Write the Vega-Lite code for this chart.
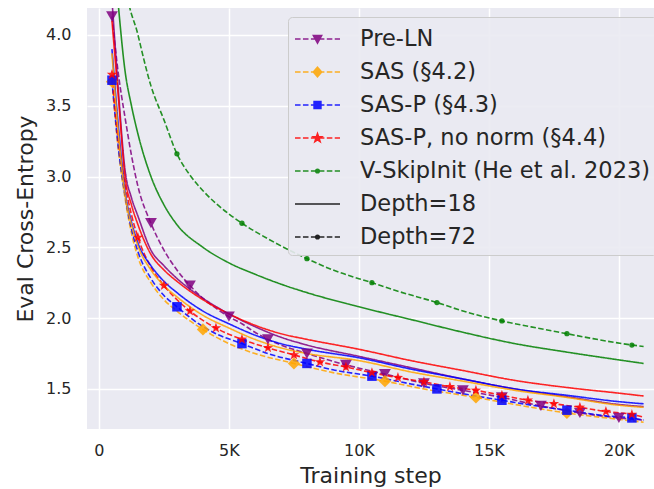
{
  "$schema": "https://vega.github.io/schema/vega-lite/v6.json",
  "width": 567,
  "height": 421,
  "autosize": {"type": "none"},
  "padding": {"left": 87, "top": 8, "right": 0, "bottom": 60},
  "background": "white",
  "view": {"fill": "#EAEAF2", "stroke": null},
  "config": {
    "font": "DejaVu Sans",
    "view": {"fill": "#EAEAF2", "stroke": null},
    "axis": {"grid": true, "gridColor": "#FFFFFF", "gridWidth": 1.5, "domain": false, "ticks": false, "labelFontSize": 16, "labelColor": "#262626", "titleFontSize": 22, "titleColor": "#262626", "titleFontWeight": "normal", "labelFont": "DejaVu Sans", "titleFont": "DejaVu Sans"}
  },
  "datasets": {
    "c": [
      {"m":"Pre-LN","d":"72","x":500,"y":4.13,"k":1},{"m":"Pre-LN","d":"72","x":750,"y":3.72,"k":0},{"m":"Pre-LN","d":"72","x":1000,"y":3.42,"k":0},{"m":"Pre-LN","d":"72","x":1250,"y":3.15,"k":0},{"m":"Pre-LN","d":"72","x":1500,"y":2.93,"k":0},{"m":"Pre-LN","d":"72","x":2000,"y":2.67,"k":1},{"m":"Pre-LN","d":"72","x":2500,"y":2.48,"k":0},{"m":"Pre-LN","d":"72","x":3000,"y":2.34,"k":0},{"m":"Pre-LN","d":"72","x":3500,"y":2.23,"k":1},{"m":"Pre-LN","d":"72","x":4000,"y":2.14,"k":0},{"m":"Pre-LN","d":"72","x":4500,"y":2.07,"k":0},{"m":"Pre-LN","d":"72","x":5000,"y":2.01,"k":1},{"m":"Pre-LN","d":"72","x":5500,"y":1.96,"k":0},{"m":"Pre-LN","d":"72","x":6000,"y":1.9,"k":0},{"m":"Pre-LN","d":"72","x":6500,"y":1.85,"k":1},{"m":"Pre-LN","d":"72","x":7000,"y":1.81,"k":0},{"m":"Pre-LN","d":"72","x":8000,"y":1.75,"k":1},{"m":"Pre-LN","d":"72","x":9500,"y":1.67,"k":1},{"m":"Pre-LN","d":"72","x":11000,"y":1.605,"k":1},{"m":"Pre-LN","d":"72","x":12500,"y":1.54,"k":1},{"m":"Pre-LN","d":"72","x":14000,"y":1.49,"k":1},{"m":"Pre-LN","d":"72","x":15500,"y":1.44,"k":1},{"m":"Pre-LN","d":"72","x":17000,"y":1.38,"k":1},{"m":"Pre-LN","d":"72","x":18500,"y":1.33,"k":1},{"m":"Pre-LN","d":"72","x":20000,"y":1.295,"k":1},{"m":"Pre-LN","d":"72","x":20950,"y":1.28,"k":0},

      {"m":"SAS (§4.2)","d":"72","x":500,"y":3.67,"k":1},{"m":"SAS (§4.2)","d":"72","x":750,"y":3.18,"k":0},{"m":"SAS (§4.2)","d":"72","x":1000,"y":2.85,"k":0},{"m":"SAS (§4.2)","d":"72","x":1250,"y":2.6,"k":0},{"m":"SAS (§4.2)","d":"72","x":1500,"y":2.43,"k":0},{"m":"SAS (§4.2)","d":"72","x":2000,"y":2.25,"k":0},{"m":"SAS (§4.2)","d":"72","x":2500,"y":2.13,"k":0},{"m":"SAS (§4.2)","d":"72","x":3000,"y":2.05,"k":0},{"m":"SAS (§4.2)","d":"72","x":3500,"y":1.98,"k":0},{"m":"SAS (§4.2)","d":"72","x":4000,"y":1.92,"k":1},{"m":"SAS (§4.2)","d":"72","x":5000,"y":1.82,"k":0},{"m":"SAS (§4.2)","d":"72","x":6000,"y":1.75,"k":0},{"m":"SAS (§4.2)","d":"72","x":7500,"y":1.68,"k":1},{"m":"SAS (§4.2)","d":"72","x":9000,"y":1.615,"k":0},{"m":"SAS (§4.2)","d":"72","x":11000,"y":1.555,"k":1},{"m":"SAS (§4.2)","d":"72","x":12500,"y":1.5,"k":0},{"m":"SAS (§4.2)","d":"72","x":14500,"y":1.44,"k":1},{"m":"SAS (§4.2)","d":"72","x":16000,"y":1.39,"k":0},{"m":"SAS (§4.2)","d":"72","x":18000,"y":1.33,"k":1},{"m":"SAS (§4.2)","d":"72","x":20000,"y":1.285,"k":0},{"m":"SAS (§4.2)","d":"72","x":20950,"y":1.265,"k":0},

      {"m":"SAS-P (§4.3)","d":"72","x":500,"y":3.68,"k":1},{"m":"SAS-P (§4.3)","d":"72","x":750,"y":3.2,"k":0},{"m":"SAS-P (§4.3)","d":"72","x":1000,"y":2.87,"k":0},{"m":"SAS-P (§4.3)","d":"72","x":1250,"y":2.63,"k":0},{"m":"SAS-P (§4.3)","d":"72","x":1500,"y":2.47,"k":0},{"m":"SAS-P (§4.3)","d":"72","x":2000,"y":2.28,"k":0},{"m":"SAS-P (§4.3)","d":"72","x":2500,"y":2.16,"k":0},{"m":"SAS-P (§4.3)","d":"72","x":3000,"y":2.08,"k":1},{"m":"SAS-P (§4.3)","d":"72","x":4000,"y":1.94,"k":0},{"m":"SAS-P (§4.3)","d":"72","x":4500,"y":1.89,"k":0},{"m":"SAS-P (§4.3)","d":"72","x":5500,"y":1.82,"k":1},{"m":"SAS-P (§4.3)","d":"72","x":6500,"y":1.75,"k":0},{"m":"SAS-P (§4.3)","d":"72","x":8000,"y":1.68,"k":1},{"m":"SAS-P (§4.3)","d":"72","x":9000,"y":1.635,"k":0},{"m":"SAS-P (§4.3)","d":"72","x":10500,"y":1.59,"k":1},{"m":"SAS-P (§4.3)","d":"72","x":12000,"y":1.535,"k":0},{"m":"SAS-P (§4.3)","d":"72","x":13000,"y":1.5,"k":1},{"m":"SAS-P (§4.3)","d":"72","x":14500,"y":1.45,"k":0},{"m":"SAS-P (§4.3)","d":"72","x":15500,"y":1.42,"k":1},{"m":"SAS-P (§4.3)","d":"72","x":17000,"y":1.375,"k":0},{"m":"SAS-P (§4.3)","d":"72","x":18000,"y":1.35,"k":1},{"m":"SAS-P (§4.3)","d":"72","x":19500,"y":1.31,"k":0},{"m":"SAS-P (§4.3)","d":"72","x":20500,"y":1.295,"k":1},{"m":"SAS-P (§4.3)","d":"72","x":20950,"y":1.28,"k":0},

      {"m":"SAS-P, no norm (§4.4)","d":"72","x":500,"y":3.72,"k":1},{"m":"SAS-P, no norm (§4.4)","d":"72","x":750,"y":3.25,"k":0},{"m":"SAS-P, no norm (§4.4)","d":"72","x":1000,"y":2.95,"k":0},{"m":"SAS-P, no norm (§4.4)","d":"72","x":1250,"y":2.73,"k":0},{"m":"SAS-P, no norm (§4.4)","d":"72","x":1500,"y":2.57,"k":1},{"m":"SAS-P, no norm (§4.4)","d":"72","x":2000,"y":2.36,"k":0},{"m":"SAS-P, no norm (§4.4)","d":"72","x":2500,"y":2.23,"k":1},{"m":"SAS-P, no norm (§4.4)","d":"72","x":3000,"y":2.13,"k":0},{"m":"SAS-P, no norm (§4.4)","d":"72","x":3500,"y":2.05,"k":1},{"m":"SAS-P, no norm (§4.4)","d":"72","x":4500,"y":1.93,"k":1},{"m":"SAS-P, no norm (§4.4)","d":"72","x":5500,"y":1.85,"k":1},{"m":"SAS-P, no norm (§4.4)","d":"72","x":6500,"y":1.79,"k":1},{"m":"SAS-P, no norm (§4.4)","d":"72","x":7500,"y":1.74,"k":1},{"m":"SAS-P, no norm (§4.4)","d":"72","x":8500,"y":1.69,"k":1},{"m":"SAS-P, no norm (§4.4)","d":"72","x":9500,"y":1.655,"k":1},{"m":"SAS-P, no norm (§4.4)","d":"72","x":10500,"y":1.615,"k":1},{"m":"SAS-P, no norm (§4.4)","d":"72","x":11500,"y":1.58,"k":1},{"m":"SAS-P, no norm (§4.4)","d":"72","x":12500,"y":1.55,"k":1},{"m":"SAS-P, no norm (§4.4)","d":"72","x":13500,"y":1.515,"k":1},{"m":"SAS-P, no norm (§4.4)","d":"72","x":14500,"y":1.49,"k":1},{"m":"SAS-P, no norm (§4.4)","d":"72","x":15500,"y":1.455,"k":1},{"m":"SAS-P, no norm (§4.4)","d":"72","x":16500,"y":1.42,"k":1},{"m":"SAS-P, no norm (§4.4)","d":"72","x":17500,"y":1.395,"k":1},{"m":"SAS-P, no norm (§4.4)","d":"72","x":18500,"y":1.37,"k":1},{"m":"SAS-P, no norm (§4.4)","d":"72","x":19500,"y":1.34,"k":1},{"m":"SAS-P, no norm (§4.4)","d":"72","x":20500,"y":1.32,"k":1},{"m":"SAS-P, no norm (§4.4)","d":"72","x":20950,"y":1.3,"k":0},

      {"m":"V-SkipInit (He et al. 2023)","d":"72","x":500,"y":5.6,"k":1},{"m":"V-SkipInit (He et al. 2023)","d":"72","x":1000,"y":4.4,"k":0},{"m":"V-SkipInit (He et al. 2023)","d":"72","x":1500,"y":4.0,"k":0},{"m":"V-SkipInit (He et al. 2023)","d":"72","x":2000,"y":3.64,"k":0},{"m":"V-SkipInit (He et al. 2023)","d":"72","x":2500,"y":3.4,"k":0},{"m":"V-SkipInit (He et al. 2023)","d":"72","x":3000,"y":3.16,"k":1},{"m":"V-SkipInit (He et al. 2023)","d":"72","x":3500,"y":3.01,"k":0},{"m":"V-SkipInit (He et al. 2023)","d":"72","x":4000,"y":2.9,"k":0},{"m":"V-SkipInit (He et al. 2023)","d":"72","x":4500,"y":2.81,"k":0},{"m":"V-SkipInit (He et al. 2023)","d":"72","x":5000,"y":2.735,"k":0},{"m":"V-SkipInit (He et al. 2023)","d":"72","x":5500,"y":2.67,"k":1},{"m":"V-SkipInit (He et al. 2023)","d":"72","x":6500,"y":2.56,"k":0},{"m":"V-SkipInit (He et al. 2023)","d":"72","x":8000,"y":2.42,"k":1},{"m":"V-SkipInit (He et al. 2023)","d":"72","x":9000,"y":2.34,"k":0},{"m":"V-SkipInit (He et al. 2023)","d":"72","x":10500,"y":2.25,"k":1},{"m":"V-SkipInit (He et al. 2023)","d":"72","x":11500,"y":2.19,"k":0},{"m":"V-SkipInit (He et al. 2023)","d":"72","x":13000,"y":2.11,"k":1},{"m":"V-SkipInit (He et al. 2023)","d":"72","x":14000,"y":2.05,"k":0},{"m":"V-SkipInit (He et al. 2023)","d":"72","x":15500,"y":1.98,"k":1},{"m":"V-SkipInit (He et al. 2023)","d":"72","x":17000,"y":1.925,"k":0},{"m":"V-SkipInit (He et al. 2023)","d":"72","x":18000,"y":1.89,"k":1},{"m":"V-SkipInit (He et al. 2023)","d":"72","x":19000,"y":1.855,"k":0},{"m":"V-SkipInit (He et al. 2023)","d":"72","x":20500,"y":1.81,"k":1},{"m":"V-SkipInit (He et al. 2023)","d":"72","x":20950,"y":1.8,"k":0},

      {"m":"Pre-LN","d":"18","x":500,"y":4.25,"k":0},{"m":"Pre-LN","d":"18","x":750,"y":3.6,"k":0},{"m":"Pre-LN","d":"18","x":1000,"y":3.05,"k":0},{"m":"Pre-LN","d":"18","x":1250,"y":2.85,"k":0},{"m":"Pre-LN","d":"18","x":1500,"y":2.72,"k":0},{"m":"Pre-LN","d":"18","x":2000,"y":2.48,"k":0},{"m":"Pre-LN","d":"18","x":2500,"y":2.37,"k":0},{"m":"Pre-LN","d":"18","x":3000,"y":2.28,"k":0},{"m":"Pre-LN","d":"18","x":4000,"y":2.14,"k":0},{"m":"Pre-LN","d":"18","x":5000,"y":2.03,"k":0},{"m":"Pre-LN","d":"18","x":6000,"y":1.94,"k":0},{"m":"Pre-LN","d":"18","x":7000,"y":1.865,"k":0},{"m":"Pre-LN","d":"18","x":8000,"y":1.81,"k":0},{"m":"Pre-LN","d":"18","x":10000,"y":1.73,"k":0},{"m":"Pre-LN","d":"18","x":12000,"y":1.65,"k":0},{"m":"Pre-LN","d":"18","x":14000,"y":1.57,"k":0},{"m":"Pre-LN","d":"18","x":16000,"y":1.5,"k":0},{"m":"Pre-LN","d":"18","x":18000,"y":1.445,"k":0},{"m":"Pre-LN","d":"18","x":20000,"y":1.39,"k":0},{"m":"Pre-LN","d":"18","x":20950,"y":1.375,"k":0},

      {"m":"SAS-P, no norm (§4.4)","d":"18","x":500,"y":4.1,"k":0},{"m":"SAS-P, no norm (§4.4)","d":"18","x":750,"y":3.55,"k":0},{"m":"SAS-P, no norm (§4.4)","d":"18","x":1000,"y":3.0,"k":0},{"m":"SAS-P, no norm (§4.4)","d":"18","x":1250,"y":2.8,"k":0},{"m":"SAS-P, no norm (§4.4)","d":"18","x":1500,"y":2.66,"k":0},{"m":"SAS-P, no norm (§4.4)","d":"18","x":2000,"y":2.45,"k":0},{"m":"SAS-P, no norm (§4.4)","d":"18","x":2500,"y":2.34,"k":0},{"m":"SAS-P, no norm (§4.4)","d":"18","x":3000,"y":2.26,"k":0},{"m":"SAS-P, no norm (§4.4)","d":"18","x":4000,"y":2.13,"k":0},{"m":"SAS-P, no norm (§4.4)","d":"18","x":5000,"y":2.03,"k":0},{"m":"SAS-P, no norm (§4.4)","d":"18","x":6000,"y":1.95,"k":0},{"m":"SAS-P, no norm (§4.4)","d":"18","x":7000,"y":1.89,"k":0},{"m":"SAS-P, no norm (§4.4)","d":"18","x":8000,"y":1.85,"k":0},{"m":"SAS-P, no norm (§4.4)","d":"18","x":10000,"y":1.78,"k":0},{"m":"SAS-P, no norm (§4.4)","d":"18","x":12000,"y":1.7,"k":0},{"m":"SAS-P, no norm (§4.4)","d":"18","x":14000,"y":1.63,"k":0},{"m":"SAS-P, no norm (§4.4)","d":"18","x":16000,"y":1.56,"k":0},{"m":"SAS-P, no norm (§4.4)","d":"18","x":18000,"y":1.51,"k":0},{"m":"SAS-P, no norm (§4.4)","d":"18","x":20000,"y":1.47,"k":0},{"m":"SAS-P, no norm (§4.4)","d":"18","x":20950,"y":1.45,"k":0},

      {"m":"SAS-P (§4.3)","d":"18","x":500,"y":3.9,"k":0},{"m":"SAS-P (§4.3)","d":"18","x":750,"y":3.35,"k":0},{"m":"SAS-P (§4.3)","d":"18","x":1000,"y":2.9,"k":0},{"m":"SAS-P (§4.3)","d":"18","x":1250,"y":2.68,"k":0},{"m":"SAS-P (§4.3)","d":"18","x":1500,"y":2.53,"k":0},{"m":"SAS-P (§4.3)","d":"18","x":2000,"y":2.37,"k":0},{"m":"SAS-P (§4.3)","d":"18","x":2500,"y":2.26,"k":0},{"m":"SAS-P (§4.3)","d":"18","x":3000,"y":2.18,"k":0},{"m":"SAS-P (§4.3)","d":"18","x":4000,"y":2.05,"k":0},{"m":"SAS-P (§4.3)","d":"18","x":5000,"y":1.96,"k":0},{"m":"SAS-P (§4.3)","d":"18","x":6000,"y":1.88,"k":0},{"m":"SAS-P (§4.3)","d":"18","x":7000,"y":1.82,"k":0},{"m":"SAS-P (§4.3)","d":"18","x":8000,"y":1.78,"k":0},{"m":"SAS-P (§4.3)","d":"18","x":10000,"y":1.72,"k":0},{"m":"SAS-P (§4.3)","d":"18","x":12000,"y":1.64,"k":0},{"m":"SAS-P (§4.3)","d":"18","x":14000,"y":1.57,"k":0},{"m":"SAS-P (§4.3)","d":"18","x":16000,"y":1.5,"k":0},{"m":"SAS-P (§4.3)","d":"18","x":18000,"y":1.455,"k":0},{"m":"SAS-P (§4.3)","d":"18","x":20000,"y":1.41,"k":0},{"m":"SAS-P (§4.3)","d":"18","x":20950,"y":1.395,"k":0},

      {"m":"SAS (§4.2)","d":"18","x":500,"y":3.87,"k":0},{"m":"SAS (§4.2)","d":"18","x":750,"y":3.3,"k":0},{"m":"SAS (§4.2)","d":"18","x":1000,"y":2.88,"k":0},{"m":"SAS (§4.2)","d":"18","x":1250,"y":2.66,"k":0},{"m":"SAS (§4.2)","d":"18","x":1500,"y":2.51,"k":0},{"m":"SAS (§4.2)","d":"18","x":2000,"y":2.34,"k":0},{"m":"SAS (§4.2)","d":"18","x":2500,"y":2.23,"k":0},{"m":"SAS (§4.2)","d":"18","x":3000,"y":2.15,"k":0},{"m":"SAS (§4.2)","d":"18","x":4000,"y":2.02,"k":0},{"m":"SAS (§4.2)","d":"18","x":5000,"y":1.93,"k":0},{"m":"SAS (§4.2)","d":"18","x":6000,"y":1.85,"k":0},{"m":"SAS (§4.2)","d":"18","x":7000,"y":1.79,"k":0},{"m":"SAS (§4.2)","d":"18","x":8000,"y":1.75,"k":0},{"m":"SAS (§4.2)","d":"18","x":10000,"y":1.7,"k":0},{"m":"SAS (§4.2)","d":"18","x":12000,"y":1.62,"k":0},{"m":"SAS (§4.2)","d":"18","x":14000,"y":1.555,"k":0},{"m":"SAS (§4.2)","d":"18","x":16000,"y":1.49,"k":0},{"m":"SAS (§4.2)","d":"18","x":18000,"y":1.44,"k":0},{"m":"SAS (§4.2)","d":"18","x":20000,"y":1.385,"k":0},{"m":"SAS (§4.2)","d":"18","x":20950,"y":1.37,"k":0},

      {"m":"V-SkipInit (He et al. 2023)","d":"18","x":500,"y":4.75,"k":0},{"m":"V-SkipInit (He et al. 2023)","d":"18","x":750,"y":4.2,"k":0},{"m":"V-SkipInit (He et al. 2023)","d":"18","x":1000,"y":3.75,"k":0},{"m":"V-SkipInit (He et al. 2023)","d":"18","x":1250,"y":3.5,"k":0},{"m":"V-SkipInit (He et al. 2023)","d":"18","x":1500,"y":3.3,"k":0},{"m":"V-SkipInit (He et al. 2023)","d":"18","x":2000,"y":3.0,"k":0},{"m":"V-SkipInit (He et al. 2023)","d":"18","x":2500,"y":2.8,"k":0},{"m":"V-SkipInit (He et al. 2023)","d":"18","x":3000,"y":2.66,"k":0},{"m":"V-SkipInit (He et al. 2023)","d":"18","x":4000,"y":2.5,"k":0},{"m":"V-SkipInit (He et al. 2023)","d":"18","x":5000,"y":2.39,"k":0},{"m":"V-SkipInit (He et al. 2023)","d":"18","x":6000,"y":2.31,"k":0},{"m":"V-SkipInit (He et al. 2023)","d":"18","x":7000,"y":2.24,"k":0},{"m":"V-SkipInit (He et al. 2023)","d":"18","x":8000,"y":2.18,"k":0},{"m":"V-SkipInit (He et al. 2023)","d":"18","x":10000,"y":2.08,"k":0},{"m":"V-SkipInit (He et al. 2023)","d":"18","x":12000,"y":1.99,"k":0},{"m":"V-SkipInit (He et al. 2023)","d":"18","x":14000,"y":1.9,"k":0},{"m":"V-SkipInit (He et al. 2023)","d":"18","x":16000,"y":1.82,"k":0},{"m":"V-SkipInit (He et al. 2023)","d":"18","x":18000,"y":1.76,"k":0},{"m":"V-SkipInit (He et al. 2023)","d":"18","x":20000,"y":1.705,"k":0},{"m":"V-SkipInit (He et al. 2023)","d":"18","x":20950,"y":1.68,"k":0}
    ],
    "lg": [{"m": "Pre-LN"}]
  },
  "layer": [
    {
      "data": {"name": "c"},
      "mark": {"type": "line", "clip": true, "strokeWidth": 1.6, "opacity": 0.85, "interpolate": "monotone"},
      "encoding": {
        "x": {"field": "x", "type": "quantitative", "title": "Training step",
              "scale": {"domain": [-460, 21350], "nice": false, "zero": false},
              "axis": {"values": [0, 5000, 10000, 15000, 20000], "labelExpr": "datum.value == 0 ? '0' : (datum.value / 1000) + 'K'", "labelPadding": 13, "titlePadding": 7}},
        "y": {"field": "y", "type": "quantitative", "title": "Eval Cross-Entropy",
              "scale": {"domain": [1.217, 4.19], "nice": false, "zero": false},
              "axis": {"values": [1.5, 2.0, 2.5, 3.0, 3.5, 4.0], "format": ".1f", "labelPadding": 16, "titlePadding": 8}},
        "color": {"field": "m", "type": "nominal",
                  "scale": {"domain": ["Pre-LN", "SAS (§4.2)", "SAS-P (§4.3)", "SAS-P, no norm (§4.4)", "V-SkipInit (He et al. 2023)", "Depth=18", "Depth=72"],
                            "range": ["#800080", "#FFA500", "#0000FF", "#FF0000", "#008000", "#000000", "#000000"]}},
        "strokeDash": {"field": "d", "type": "nominal", "scale": {"domain": ["18", "72"], "range": [[1, 0], [5.5, 2.4]]}, "legend": null},
        "order": {"field": "x", "type": "quantitative"}
      }
    },
    {
      "data": {"name": "c"},
      "transform": [{"filter": "datum.k == 1 && datum.m == 'Pre-LN'"}],
      "mark": {"type": "point", "filled": true, "shape": "triangle-down", "size": 140, "color": "#800080", "opacity": 0.85, "clip": true},
      "encoding": {"x": {"field": "x", "type": "quantitative"}, "y": {"field": "y", "type": "quantitative"}}
    },
    {
      "data": {"name": "c"},
      "transform": [{"filter": "datum.k == 1 && datum.m == 'SAS (§4.2)'"}],
      "mark": {"type": "point", "filled": true, "shape": "diamond", "size": 150, "color": "#FFA500", "opacity": 0.85, "clip": true},
      "encoding": {"x": {"field": "x", "type": "quantitative"}, "y": {"field": "y", "type": "quantitative"}}
    },
    {
      "data": {"name": "c"},
      "transform": [{"filter": "datum.k == 1 && datum.m == 'SAS-P (§4.3)'"}],
      "mark": {"type": "point", "filled": true, "shape": "square", "size": 90, "color": "#0000FF", "opacity": 0.85, "clip": true},
      "encoding": {"x": {"field": "x", "type": "quantitative"}, "y": {"field": "y", "type": "quantitative"}}
    },
    {
      "data": {"name": "c"},
      "transform": [{"filter": "datum.k == 1 && datum.m == 'SAS-P, no norm (§4.4)'"}],
      "mark": {"type": "point", "filled": true, "shape": "M0,-1L0.235,-0.324L0.951,-0.309L0.38,0.124L0.588,0.809L0,0.4L-0.588,0.809L-0.38,0.124L-0.951,-0.309L-0.235,-0.324Z", "size": 120, "color": "#FF0000", "opacity": 0.85, "clip": true},
      "encoding": {"x": {"field": "x", "type": "quantitative"}, "y": {"field": "y", "type": "quantitative"}}
    },
    {
      "data": {"name": "c"},
      "transform": [{"filter": "datum.k == 1 && datum.m == 'V-SkipInit (He et al. 2023)'"}],
      "mark": {"type": "point", "filled": true, "shape": "circle", "size": 28, "color": "#008000", "opacity": 0.85, "clip": true},
      "encoding": {"x": {"field": "x", "type": "quantitative"}, "y": {"field": "y", "type": "quantitative"}}
    },
    {
      "data": {"name": "lg"},
      "mark": {"type": "point", "filled": true, "size": 900, "opacity": 0},
      "encoding": {
        "color": {"field": "m", "type": "nominal",
                  "scale": {"domain": ["Pre-LN", "SAS (§4.2)", "SAS-P (§4.3)", "SAS-P, no norm (§4.4)", "V-SkipInit (He et al. 2023)", "Depth=18", "Depth=72"],
                            "range": ["#800080", "#FFA500", "#0000FF", "#FF0000", "#008000", "#000000", "#000000"]},
                  "legend": {"title": null, "orient": "none", "legendX": 201, "legendY": 9, "padding": 6, "rowPadding": 5, "labelOffset": 34, "labelFontSize": 22.5, "labelFont": "DejaVu Sans", "labelColor": "#262626", "labelLimit": 500, "symbolSize": 900, "symbolStrokeWidth": 1.5, "symbolOpacity": 0.85, "fillColor": "rgba(234,234,242,0.9)", "strokeColor": "#CCCCCC", "cornerRadius": 4,
                             "encode": {"symbols": {"update": {"stroke": {"scale": "color", "field": "value"}, "fill": {"scale": "color", "field": "value"}, "strokeWidth": {"value": 1.5}, "opacity": {"value": 0.85}}}}}},
        "shape": {"field": "m", "type": "nominal",
                  "scale": {"domain": ["Pre-LN", "SAS (§4.2)", "SAS-P (§4.3)", "SAS-P, no norm (§4.4)", "V-SkipInit (He et al. 2023)", "Depth=18", "Depth=72"],
                            "range": [
                              "M-1,0H-0.63M-0.47,0H-0.1M0.06,0H0.43M0.59,0H0.96M1.12,0H1.49M1.65,0H2M0.22,-0.24L0.78,-0.24L0.5,0.28Z",
                              "M-1,0H-0.63M-0.47,0H-0.1M0.06,0H0.43M0.59,0H0.96M1.12,0H1.49M1.65,0H2M0.5,-0.32L0.78,0L0.5,0.32L0.22,0Z",
                              "M-1,0H-0.63M-0.47,0H-0.1M0.06,0H0.43M0.59,0H0.96M1.12,0H1.49M1.65,0H2M0.27,-0.23H0.73V0.23H0.27Z",
                              "M-1,0H-0.63M-0.47,0H-0.1M0.06,0H0.43M0.59,0H0.96M1.12,0H1.49M1.65,0H2M0.5,-0.3L0.571,-0.097L0.785,-0.093L0.614,0.037L0.676,0.243L0.5,0.12L0.324,0.243L0.386,0.037L0.215,-0.093L0.429,-0.097Z",
                              "M-1,0H-0.63M-0.47,0H-0.1M0.06,0H0.43M0.59,0H0.96M1.12,0H1.49M1.65,0H2M0.62,0A0.12,0.12 0 1,1 0.38,0A0.12,0.12 0 1,1 0.62,0Z",
                              "M-1,0H2",
                              "M-1,0H-0.63M-0.47,0H-0.1M0.06,0H0.43M0.59,0H0.96M1.12,0H1.49M1.65,0H2M0.62,0A0.12,0.12 0 1,1 0.38,0A0.12,0.12 0 1,1 0.62,0Z"
                            ]},
                  "legend": {"title": null, "orient": "none", "legendX": 201, "legendY": 9, "padding": 6, "rowPadding": 5, "labelOffset": 34, "labelFontSize": 22.5, "labelFont": "DejaVu Sans", "labelColor": "#262626", "labelLimit": 500, "symbolSize": 900, "symbolStrokeWidth": 1.5, "symbolOpacity": 0.85, "fillColor": "rgba(234,234,242,0.9)", "strokeColor": "#CCCCCC", "cornerRadius": 4,
                             "encode": {"symbols": {"update": {"stroke": {"scale": "color", "field": "value"}, "fill": {"scale": "color", "field": "value"}, "strokeWidth": {"value": 1.5}, "opacity": {"value": 0.85}}}}}}
      }
    }
  ]
}
